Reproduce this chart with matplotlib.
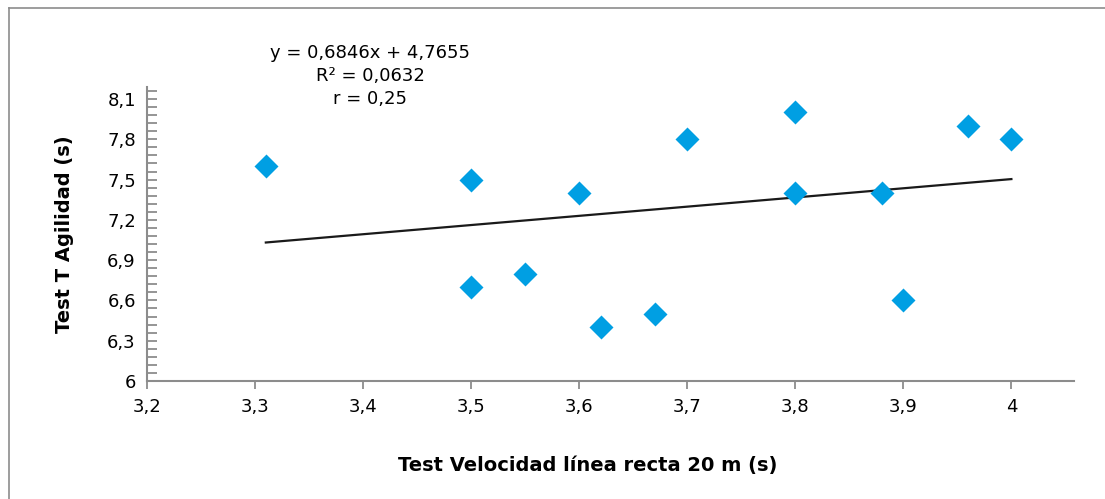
import matplotlib.pyplot as plt
from matplotlib.ticker import MultipleLocator, FuncFormatter
from matplotlib.lines import Line2D

# Velocidad 20 m vs Test T agilidad
velocidad = [3.31, 3.5, 3.5, 3.55, 3.6, 3.62, 3.67, 3.7, 3.8, 3.8, 3.88, 3.9, 3.96, 4.0]
agilidad = [7.6, 7.5, 6.7, 6.8, 7.4, 6.4, 6.5, 7.8, 8.0, 7.4, 7.4, 6.6, 7.9, 7.8]
pendiente = 0.6846
intercepto = 4.7655
trend_x = [min(velocidad), max(velocidad)]

plt.rcParams['font.family'] = ['DejaVu Sans']

fig = plt.figure(figsize=(11.05, 4.99), dpi=100)
ax = fig.add_axes([0.133, 0.2365, 0.839, 0.5892])

ax.plot(trend_x, [pendiente * x + intercepto for x in trend_x], color='#1a1a1a', lw=1.6, zorder=2)
ax.plot(velocidad, agilidad, 'D', color='#009FE3', ms=12.5, mec='none', zorder=3)

ax.set_xlim(3.2, 4.058)
ax.set_ylim(6, 8.19)
ax.xaxis.set_major_locator(MultipleLocator(0.1))
ax.yaxis.set_major_locator(MultipleLocator(0.3))
ax.yaxis.set_minor_locator(MultipleLocator(0.06))

def coma(v, pos):
    s = f"{v:.1f}".rstrip('0').rstrip('.')
    return s.replace('.', ',')

ax.xaxis.set_major_formatter(FuncFormatter(coma))
ax.yaxis.set_major_formatter(FuncFormatter(coma))

for s in ['top', 'right']:
    ax.spines[s].set_visible(False)
for s in ['left', 'bottom']:
    ax.spines[s].set_color('#8c8c8c')
    ax.spines[s].set_linewidth(1.5)

ax.tick_params(axis='x', direction='out', length=6, width=1.3, color='#8c8c8c',
               labelsize=13, pad=6)
ax.tick_params(axis='y', which='both', direction='in', length=7, width=1.3,
               color='#8c8c8c', labelsize=13, pad=8)

ax.set_ylabel('Test T Agilidad (s)', fontsize=14, fontweight='bold', labelpad=24)
fig.text(0.532, 0.068, 'Test Velocidad línea recta 20 m (s)', fontsize=14,
         fontweight='bold', ha='center', va='center')

fig.text(0.335, 0.848, 'y = 0,6846x + 4,7655\nR² = 0,0632\nr = 0,25', fontsize=13,
         ha='center', va='center', linespacing=1.35)

# marco de la figura
fig.add_artist(Line2D([0.008, 1], [0.984, 0.984], transform=fig.transFigure,
                      color='#8c8c8c', lw=1.2))
fig.add_artist(Line2D([0.008, 0.008], [0, 0.984], transform=fig.transFigure,
                      color='#8c8c8c', lw=1.2))

fig.savefig('out.png', dpi=100)
